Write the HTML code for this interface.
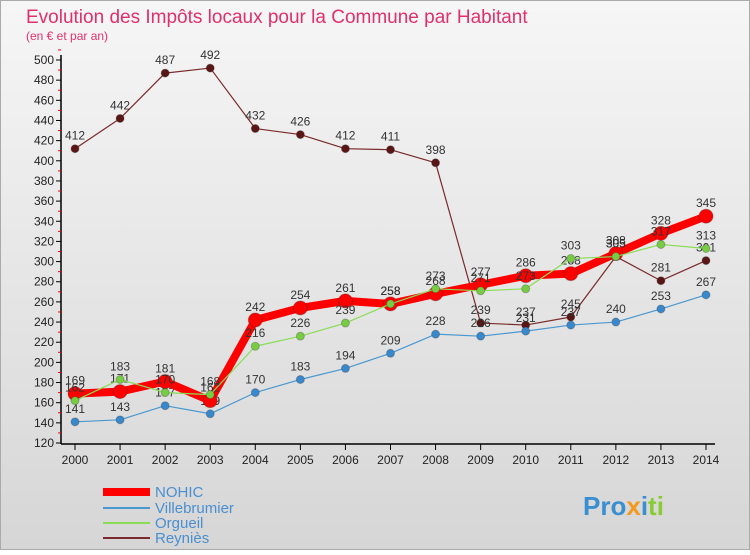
<!DOCTYPE html>
<html><head><meta charset="utf-8"><style>
body{margin:0;width:750px;height:550px;overflow:hidden;font-family:"Liberation Sans",sans-serif}
</style></head><body>
<svg width="750" height="550" xmlns="http://www.w3.org/2000/svg">
<defs><linearGradient id="bg" x1="0" y1="0" x2="0" y2="1"><stop offset="0" stop-color="#f6f6f6"/><stop offset="1" stop-color="#d6d6d6"/></linearGradient></defs>
<rect x="0.5" y="0.5" width="749" height="549" fill="url(#bg)" stroke="#aaa"/>
<text x="26" y="23" font-size="19" fill="#e0306a">Evolution des Impôts locaux pour la Commune par Habitant</text>
<text x="26" y="40" font-size="12" fill="#e0306a">(en € et par an)</text>
<g id="axes"></g><g id="series"></g>
<g font-size="15">
<line x1="103" y1="492" x2="150" y2="492" stroke="#f00" stroke-width="8"/>
<text x="155" y="497" fill="#4a8fd0">NOHIC</text>
<line x1="103" y1="508" x2="150" y2="508" stroke="#4a98d0" stroke-width="2"/>
<text x="155" y="513" fill="#4a8fd0">Villebrumier</text>
<line x1="103" y1="523" x2="150" y2="523" stroke="#88dd55" stroke-width="2"/>
<text x="155" y="528" fill="#4a8fd0">Orgueil</text>
<line x1="103" y1="538" x2="150" y2="538" stroke="#7a2a2a" stroke-width="2"/>
<text x="155" y="543" fill="#4a8fd0">Reyniès</text>
</g>
<text x="583" y="515" font-size="26" font-weight="bold" fill="#3a8fd0">Pro<tspan fill="#f39a1e">x</tspan><tspan fill="#3a8fd0">i</tspan><tspan fill="#88cc33">ti</tspan></text>
</svg>
<script>
const years=[2000,2001,2002,2003,2004,2005,2006,2007,2008,2009,2010,2011,2012,2013,2014];
const nohic=[169,171,181,162,242,254,261,258,268,277,286,288,308,328,345];
const villebrumier=[141,143,157,149,170,183,194,209,228,226,231,237,240,253,267];
const orgueil=[162,183,170,168,216,226,239,258,273,271,273,303,305,317,313];
const reynies=[412,442,487,492,432,426,412,411,398,239,237,245,305,281,301];
const yTicks=[120,140,160,180,200,220,240,260,280,300,320,340,360,380,400,420,440,460,480,500];
const NS="http://www.w3.org/2000/svg";
const x=i=>75+i*(706-75)/14;
const y=v=>443-(v-120)*(443-60)/380;
function mk(t,a,p){const e=document.createElementNS(NS,t);for(const k in a)e.setAttribute(k,a[k]);p.appendChild(e);return e;}
const ax=document.getElementById('axes');
let l=mk('line',{x1:61,y1:55,x2:61,y2:444,stroke:'#000','stroke-width':1.5},ax);


l=mk('line',{x1:61,y1:444,x2:715,y2:444,stroke:'#000','stroke-width':1.5},ax);


yTicks.forEach(v=>{
 const t=mk('line',{x1:56,x2:61,y1:y(v),y2:y(v),stroke:'#000'},ax);
 
 
 const m=mk('line',{x1:58,x2:61,y1:y(v+10),y2:y(v+10),stroke:'#f00'},ax);
 
 
 const tx=mk('text',{x:54,y:y(v)+4,'text-anchor':'end','font-size':12,fill:'#222'},ax);
 tx.textContent=v;
 
 
});
years.forEach((yr,i)=>{
 const t=mk('line',{x1:x(i),x2:x(i),y1:444,y2:450,stroke:'#000'},ax);
 
 
 const tx=mk('text',{x:x(i),y:464,'text-anchor':'middle','font-size':12,fill:'#222'},ax);
 tx.textContent=yr;
 
 
});
const sg=document.getElementById('series');
function draw(vals,name,color,w,r,dot){
 const g=mk('g',{},sg);
 
 
 const p=mk('polyline',{points:vals.map((v,i)=>x(i)+','+y(v)).join(' '),fill:'none',stroke:color,'stroke-width':w,'stroke-linejoin':'round'},g);
 
 
 vals.forEach((v,i)=>{
  const c=mk('circle',{cx:x(i),cy:y(v),r:r,fill:dot,stroke:'#333','stroke-opacity':0.3},g);
  
  
  const t=mk('text',{x:x(i),y:y(v)-9,'text-anchor':'middle','font-size':12,fill:'#333'},g);
  t.textContent=v;
  
  
 });
}
draw(reynies,'reynies','#7a2a2a',1.2,4,'#5a1515');
draw(villebrumier,'villebrumier','#4a98d0',1.2,4,'#3a88cc');
draw(nohic,'nohic','#f00',8,7,'#f00');
draw(orgueil,'orgueil','#88dd55',1.2,4,'#77cc44');
</script>
</body></html>
